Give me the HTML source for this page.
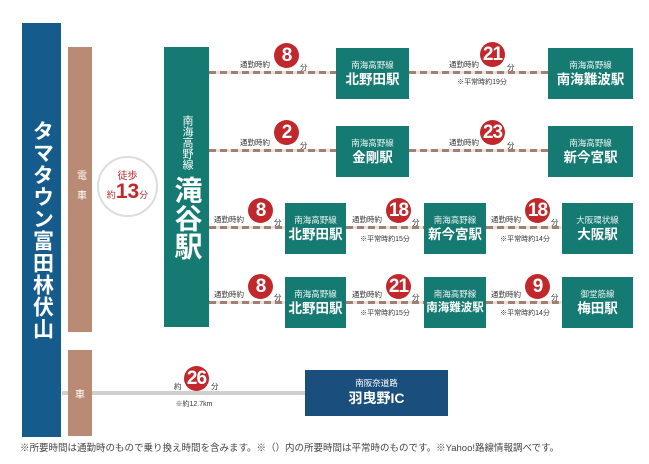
<!DOCTYPE html><html><head><meta charset="utf-8"><style>
*{margin:0;padding:0;box-sizing:border-box}
body{width:649px;height:464px;background:#fff;position:relative;overflow:hidden;font-family:"Liberation Sans","Noto Sans CJK JP",sans-serif}
.a{position:absolute}
.box{position:absolute;background:#157a72;color:#fff;text-align:center;display:flex;flex-direction:column;justify-content:center;align-items:center;white-space:nowrap}
.box .s{font-size:8.5px;opacity:.9;line-height:12px}
.box .b{font-size:13.5px;font-weight:bold;line-height:17px}
.ln{position:absolute;height:3px;background:repeating-linear-gradient(90deg,#a08070 0 7px,#e8e0da 7px 11px)}
.c{position:absolute;width:25px;height:25px;border-radius:50%;background:#c0282c;color:#fff;font-weight:bold;font-size:19px;line-height:25px;text-align:center;letter-spacing:-1px}
.t{position:absolute;font-size:7.5px;color:#333;white-space:nowrap}
.n{position:absolute;font-size:7px;color:#333;white-space:nowrap;transform:translateX(-50%)}
</style></head><body>
<div class="a" style="left:22px;top:23px;width:39px;height:414px;background:#155c8c;color:#fff;font-size:21px;font-weight:bold;writing-mode:vertical-rl;display:flex;align-items:center;justify-content:center;letter-spacing:1px">タマタウン富田林伏山</div>
<div class="a" style="left:68px;top:47px;width:24px;height:285px;background:#b98a74;color:#fff;font-size:10px;writing-mode:vertical-rl;display:flex;align-items:center;justify-content:center;letter-spacing:10px">電車</div>
<div class="a" style="left:62px;top:391px;width:243px;height:4px;background:#cfcfcf"></div>
<div class="a" style="left:68px;top:350px;width:24px;height:86px;background:#b98a74;color:#fff;font-size:10px;display:flex;align-items:center;justify-content:center">車</div>
<div class="a" style="left:97px;top:156px;width:61px;height:61px;border-radius:50%;border:2px solid #ddd;color:#c0282c;text-align:center">
<div style="font-size:10px;margin-top:9px">徒歩</div>
<div style="font-size:9px;line-height:20px">約<span style="font-size:21px;font-weight:bold">13</span>分</div></div>
<div class="a" style="left:164px;top:47px;width:45px;height:280px;background:#157a72;color:#fff;display:flex;flex-direction:column;align-items:center;justify-content:center">
<div style="font-size:11px;writing-mode:vertical-rl;line-height:13px">南海高野線</div>
<div style="font-size:28px;font-weight:bold;writing-mode:vertical-rl;margin-top:6px;line-height:30px">滝谷駅</div></div>

<!-- row1 -->
<div class="ln" style="left:209px;top:71px;width:127px"></div>
<div class="ln" style="left:409px;top:71px;width:139px"></div>
<div class="box" style="left:336px;top:48px;width:73px;height:51px"><div class="s">南海高野線</div><div class="b">北野田駅</div></div>
<div class="box" style="left:548px;top:48px;width:85px;height:51px"><div class="s">南海高野線</div><div class="b">南海難波駅</div></div>
<span class="t" style="left:240px;top:59px">通勤時約</span><div class="c" style="left:274px;top:43px">8</div><span class="t" style="left:300px;top:62px">分</span>
<span class="t" style="left:449px;top:59px">通勤時約</span><div class="c" style="left:480px;top:42px">21</div><span class="t" style="left:507px;top:62px">分</span>
<span class="n" style="left:482px;top:77px">※平常時約19分</span>

<!-- row2 -->
<div class="ln" style="left:209px;top:149px;width:127px"></div>
<div class="ln" style="left:409px;top:149px;width:139px"></div>
<div class="box" style="left:336px;top:126px;width:73px;height:51px"><div class="s">南海高野線</div><div class="b">金剛駅</div></div>
<div class="box" style="left:548px;top:126px;width:85px;height:51px"><div class="s">南海高野線</div><div class="b">新今宮駅</div></div>
<span class="t" style="left:240px;top:137px">通勤時約</span><div class="c" style="left:274px;top:120px">2</div><span class="t" style="left:300px;top:140px">分</span>
<span class="t" style="left:449px;top:137px">通勤時約</span><div class="c" style="left:480px;top:120px">23</div><span class="t" style="left:507px;top:140px">分</span>

<!-- row3 -->
<div class="ln" style="left:209px;top:226px;width:76px"></div>
<div class="ln" style="left:346px;top:226px;width:78px"></div>
<div class="ln" style="left:486px;top:226px;width:76px"></div>
<div class="box" style="left:285px;top:203px;width:61px;height:51px"><div class="s">南海高野線</div><div class="b">北野田駅</div></div>
<div class="box" style="left:424px;top:203px;width:62px;height:51px"><div class="s">南海高野線</div><div class="b">新今宮駅</div></div>
<div class="box" style="left:562px;top:203px;width:71px;height:51px"><div class="s">大阪環状線</div><div class="b">大阪駅</div></div>
<span class="t" style="left:214px;top:214px">通勤時約</span><div class="c" style="left:248px;top:198px">8</div><span class="t" style="left:274px;top:217px">分</span>
<span class="t" style="left:352px;top:214px">通勤時約</span><div class="c" style="left:386px;top:198px">18</div><span class="t" style="left:412px;top:217px">分</span>
<span class="n" style="left:385px;top:234px">※平常時約15分</span>
<span class="t" style="left:491px;top:214px">通勤時約</span><div class="c" style="left:525px;top:198px">18</div><span class="t" style="left:551px;top:217px">分</span>
<span class="n" style="left:525px;top:234px">※平常時約14分</span>

<!-- row4 -->
<div class="ln" style="left:209px;top:301px;width:76px"></div>
<div class="ln" style="left:346px;top:301px;width:78px"></div>
<div class="ln" style="left:486px;top:301px;width:76px"></div>
<div class="box" style="left:285px;top:277px;width:61px;height:51px"><div class="s">南海高野線</div><div class="b">北野田駅</div></div>
<div class="box" style="left:424px;top:277px;width:62px;height:51px"><div class="s">南海高野線</div><div class="b" style="font-size:11.5px">南海難波駅</div></div>
<div class="box" style="left:562px;top:277px;width:71px;height:51px"><div class="s">御堂筋線</div><div class="b">梅田駅</div></div>
<span class="t" style="left:214px;top:289px">通勤時約</span><div class="c" style="left:248px;top:274px">8</div><span class="t" style="left:274px;top:292px">分</span>
<span class="t" style="left:352px;top:289px">通勤時約</span><div class="c" style="left:386px;top:274px">21</div><span class="t" style="left:412px;top:292px">分</span>
<span class="n" style="left:385px;top:308px">※平常時約15分</span>
<span class="t" style="left:491px;top:289px">通勤時約</span><div class="c" style="left:525px;top:274px">9</div><span class="t" style="left:551px;top:292px">分</span>
<span class="n" style="left:525px;top:308px">※平常時約14分</span>

<!-- car -->
<span class="t" style="left:174px;top:381px">約</span><div class="c" style="left:184px;top:366px">26</div><span class="t" style="left:211px;top:381px">分</span>
<span class="n" style="left:194px;top:399px">※約12.7km</span>
<div class="a" style="left:305px;top:370px;width:143px;height:46px;background:#1a4e7c;color:#fff;text-align:center">
<div style="font-size:8.5px;margin-top:8px;line-height:11px">南阪奈道路</div><div style="font-size:14px;font-weight:bold;line-height:19px">羽曳野IC</div></div>

<div class="a" style="left:20px;top:440px;font-size:9.5px;color:#444;white-space:nowrap">※所要時間は通勤時のもので乗り換え時間を含みます。※（）内の所要時間は平常時のものです。※Yahoo!路線情報調べです。</div>
</body></html>
